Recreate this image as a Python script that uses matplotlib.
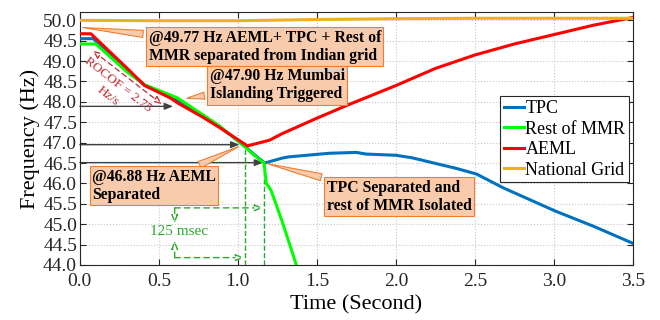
import matplotlib
matplotlib.use("Agg")
import matplotlib.pyplot as plt

plt.rcParams["font.family"] = ["Liberation Serif", "DejaVu Serif"]

# --------------------------------
# data
# --------------------------------
t_aeml = [0.0, 0.07, 0.30, 0.41, 0.57, 0.62, 0.78, 0.88, 0.99, 1.06, 1.20, 1.28, 1.50,
          1.70, 2.00, 2.25, 2.50, 2.75, 3.00, 3.25, 3.50]
f_aeml = [49.67, 49.67, 48.82, 48.40, 48.10, 47.97, 47.62, 47.38, 47.10, 46.92, 47.06,
          47.22, 47.60, 47.93, 48.40, 48.82, 49.15, 49.42, 49.65, 49.88, 50.07]

t_tpc = [0.0, 0.085, 0.30, 0.41, 0.57, 0.62, 0.78, 0.88, 0.99, 1.05, 1.10, 1.17, 1.28,
         1.32, 1.58, 1.75, 1.81, 2.00, 2.10, 2.38, 2.51, 2.68, 3.01, 3.25, 3.50]
f_tpc = [49.55, 49.55, 48.78, 48.41, 48.13, 48.03, 47.65, 47.40, 47.08, 46.89, 46.72,
         46.50, 46.62, 46.65, 46.74, 46.76, 46.72, 46.69, 46.63, 46.37, 46.23, 45.89,
         45.32, 44.95, 44.53]

t_mmr = [0.0, 0.10, 0.30, 0.41, 0.57, 0.62, 0.78, 0.88, 0.99, 1.05, 1.10, 1.165, 1.18,
         1.21, 1.28, 1.37]
f_mmr = [49.42, 49.42, 48.73, 48.42, 48.17, 48.09, 47.68, 47.42, 47.07, 46.88, 46.70,
         46.50, 46.00, 45.83, 45.07, 44.00]

t_grid = [0.0, 0.5, 1.0, 1.5, 2.0, 2.5, 3.0, 3.5]
f_grid = [50.00, 49.99, 49.99, 50.02, 50.04, 50.05, 50.05, 50.05]

series = ["TPC", "Rest of MMR", "AEML", "National Grid"]
colors = ["#0072BD", "#00FF00", "#FF0000", "#EDB120"]

# --------------------------------
# plot
# --------------------------------
fig = plt.figure(figsize=(6.6, 3.2), dpi=100)
ax = fig.add_axes([0.121, 0.172, 0.838, 0.790])

for t, f, lab, c in zip([t_tpc, t_mmr, t_aeml, t_grid],
                        [f_tpc, f_mmr, f_aeml, f_grid], series, colors):
    ax.plot(t, f, color=c, lw=2.2, label=lab, zorder=3)

ax.set_xlim(0, 3.5)
ax.set_ylim(44.0, 50.2)
ax.set_xticks([0.5 * i for i in range(8)])
ax.set_yticks([44.0 + 0.5 * i for i in range(13)])
ax.xaxis.set_major_formatter(matplotlib.ticker.FormatStrFormatter("%.1f"))
ax.yaxis.set_major_formatter(matplotlib.ticker.FormatStrFormatter("%.1f"))
ax.tick_params(direction="in", top=True, right=True, length=4, width=0.8,
               labelsize=14, colors="#262626")
ax.tick_params(axis="x", pad=5.5)
ax.tick_params(axis="y", pad=2.0)
for s in ax.spines.values():
    s.set_color("#262626")
    s.set_linewidth(0.8)
ax.grid(True, ls=":", color="#c8c8c8", lw=0.8)
ax.set_xlabel("Time (Second)", fontsize=16, labelpad=4)
ax.set_ylabel("Frequency (Hz)", fontsize=16, labelpad=2)

# dark grey horizontal arrows
gray = "#404040"
for y, x_end in [(47.89, 0.59), (46.95, 1.01), (46.51, 1.16)]:
    ax.annotate("", xy=(x_end, y), xytext=(0.0, y),
                arrowprops=dict(arrowstyle="-|>,head_length=0.5,head_width=0.2",
                                color=gray, lw=1.0, shrinkA=0, shrinkB=0), zorder=2)

# green timing lines
green = "#2DA82D"
ax.plot([1.045, 1.045], [44.0, 46.88], ls="--", color=green, lw=1.0, zorder=2)
ax.plot([1.165, 1.165], [44.0, 46.50], ls="--", color=green, lw=1.0, zorder=2)
green_arrow = dict(arrowstyle="-|>,head_length=0.5,head_width=0.2", ec=green, fc="white",
                   lw=1.0, ls=(0, (4, 3)), shrinkA=0, shrinkB=0)
ax.annotate("", xy=(1.16, 45.40), xytext=(0.60, 45.40), arrowprops=green_arrow)
ax.annotate("", xy=(1.04, 44.18), xytext=(0.60, 44.18), arrowprops=green_arrow)
ax.annotate("", xy=(0.60, 45.02), xytext=(0.60, 45.40), arrowprops=green_arrow)
ax.annotate("", xy=(0.60, 44.60), xytext=(0.60, 44.18), arrowprops=green_arrow)
ax.text(0.63, 44.82, "125 msec", color=green, fontsize=11, ha="center", va="center")

# ROCOF arrow
dred = "#C0282D"
ax.annotate("", xy=(0.08, 49.26), xytext=(0.52, 47.94),
            arrowprops=dict(arrowstyle="<|-|>,head_length=0.5,head_width=0.2", ec=dred,
                            fc="white", lw=0.9, ls=(0, (4, 3)), shrinkA=0, shrinkB=0))
ax.text(0.24, 48.42, "ROCOF = 2.75", color=dred, fontsize=9.5, rotation=-38,
        ha="center", va="center", rotation_mode="anchor")
ax.text(0.18, 48.15, "Hz/s", color=dred, fontsize=9.5, rotation=-38,
        ha="center", va="center", rotation_mode="anchor")

# callouts
box = dict(boxstyle="square,pad=0.15", fc="#F8CBAD", ec="#ED7D31", lw=0.8)
wedge = dict(arrowstyle="wedge,tail_width=0.45", fc="#F8CBAD", ec="#ED7D31", lw=0.8)
callouts = [
    ("@49.77 Hz AEML+ TPC + Rest of\nMMR separated from Indian grid", (0.0, 49.83), (1.17, 49.35)),
    ("@47.90 Hz Mumbai\nIslanding Triggered", (0.66, 48.08), (1.25, 48.41)),
    ("@46.88 Hz AEML\nSeparated", (1.02, 46.93), (0.47, 45.94)),
    ("TPC Separated and\nrest of MMR Isolated", (1.17, 46.50), (2.02, 45.67)),
]
for txt, xy, xytext in callouts:
    ax.annotate(txt, xy=xy, xytext=xytext, fontsize=11.3, fontweight="bold",
                ha="center", va="center", multialignment="left",
                bbox=box, arrowprops=wedge, zorder=5)

leg = ax.legend(loc="upper right", bbox_to_anchor=(0.993, 0.667), borderaxespad=0,
                fontsize=13, fancybox=False, framealpha=1, edgecolor="#262626",
                handlelength=1.1, handletextpad=0.1, labelspacing=0.2, borderpad=0.2)
leg.get_frame().set_linewidth(0.8)

fig.savefig("out.png", dpi=100)
